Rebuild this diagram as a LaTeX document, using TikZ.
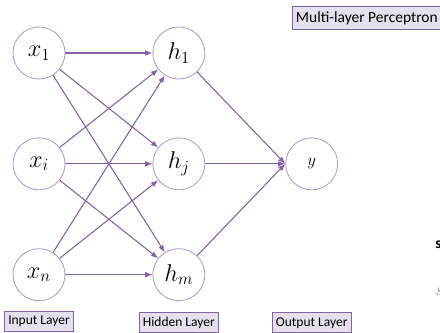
\documentclass[tikz,border=0pt]{standalone}
\usepackage{fontspec}
\setsansfont{Carlito}
\usepackage{tikz}
\usetikzlibrary{arrows.meta,positioning}
\definecolor{mlpedge}{RGB}{128,100,162}
\definecolor{mlpring}{RGB}{172,158,202}
\definecolor{mlpboxfill}{RGB}{229,224,236}
\definecolor{mlpboxline}{RGB}{128,100,162}

\begin{document}
\begin{tikzpicture}[
  node distance=1.45cm and 2.175cm,
  arrow/.style={-{Latex[length=1.8mm, width=1.4mm]}, line width=0.75pt, draw=mlpedge},
  neuron/.style={circle, draw=mlpring, line width=0.6pt, fill=white, minimum size=1.3cm,
    inner sep=0pt, font=\fontsize{18}{20}\selectfont},
  outneuron/.style={neuron, font=\fontsize{12}{14}\selectfont},
  tag/.style={draw=mlpboxline, fill=mlpboxfill, line width=0.6pt, minimum height=0.5cm,
    inner sep=2.5pt, font=\sffamily\fontsize{9.6}{11}\selectfont}
]
\useasboundingbox (0,0) rectangle (11,-8.325);
\clip (0,0) rectangle (11,-8.325);

\node[neuron] (x1) at (0.975,-1.325) {$x_1$};
\node[neuron, below=of x1] (xi) {$x_i$};
\node[neuron, below=of xi] (xn) {$x_n$};

\node[neuron, right=of x1] (h1) {$h_1$};
\node[neuron, right=of xi] (hj) {$h_j$};
\node[neuron, right=of xn] (hm) {$h_m$};

\node[outneuron, right=2.0cm of hj] (y) {$y$};

\draw[arrow] (x1) -- (h1);
\draw[arrow] (x1) -- (hj);
\draw[arrow] (x1) -- (hm);
\draw[arrow] (xi) -- (h1);
\draw[arrow] (xi) -- (hj);
\draw[arrow] (xi) -- (hm);
\draw[arrow] (xn) -- (h1);
\draw[arrow] (xn) -- (hj);
\draw[arrow] (xn) -- (hm);
\draw[arrow] (h1) -- (y.west);
\draw[arrow] (hj) -- (y.west);
\draw[arrow] (hm) -- (y.west);

\node[tag, below=0.25cm of xn] (inlayer) {Input Layer};
\node[tag, below=0.28cm of hm] (hidlayer) {Hidden Layer};
\node[tag] (outlayer) at (y |- hidlayer) {Output Layer};
\node[tag, anchor=north west, minimum height=0.575cm, font=\sffamily\fontsize{11}{13}\selectfont]
  (title) at (7.3,-0.15) {Multi-layer Perceptron};

\node[anchor=west, inner sep=0pt, font=\sffamily\bfseries\fontsize{11}{13}\selectfont] (cuta) at (10.88,-6.13) {s};
\node[anchor=west, inner sep=0pt, text=gray, font=\itshape\fontsize{12}{14}\selectfont] (cutb) at (10.88,-7.3) {s};

\end{tikzpicture}
\end{document}
